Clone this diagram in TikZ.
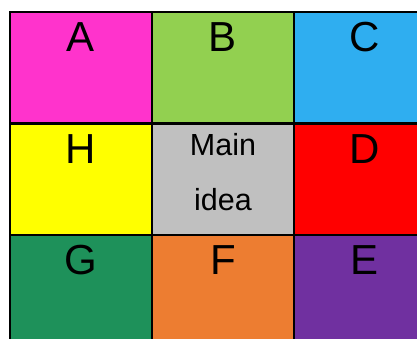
\documentclass[tikz,border=0pt]{standalone}
\usepackage{fontspec}
\setmainfont{Liberation Sans}
\definecolor{cA}{RGB}{255,51,204}
\definecolor{cB}{RGB}{146,208,80}
\definecolor{cC}{RGB}{47,174,240}
\definecolor{cH}{RGB}{255,255,0}
\definecolor{cM}{RGB}{192,192,192}
\definecolor{cD}{RGB}{255,0,0}
\definecolor{cG}{RGB}{30,145,90}
\definecolor{cF}{RGB}{237,125,49}
\definecolor{cE}{RGB}{112,48,160}
\tikzset{
  cell/.style={draw=black, line width=2.6pt, rectangle, minimum width=142pt, minimum height=111.5pt, inner sep=0pt, outer sep=0pt, anchor=north west},
  big/.style={anchor=base, inner sep=0pt, font=\fontsize{42}{50}\selectfont},
  mid/.style={anchor=base, inner sep=0pt, font=\fontsize{30.5}{55}\selectfont, align=center}
}
\begin{document}
\begin{tikzpicture}[x=1pt,y=1pt]
\useasboundingbox (0,0) rectangle (417,-338);
\clip (0,0) rectangle (417,-338);
\fill[white] (0,0) rectangle (417,-338);
\node[cell, fill=cA] (a) at (10,-12) {};
\node[cell, fill=cB] (b) at (152,-12) {};
\node[cell, fill=cC] (c) at (294,-12) {};
\node[cell, fill=cH] (h) at (10,-123.5) {};
\node[cell, fill=cM] (m) at (152,-123.5) {};
\node[cell, fill=cD] (d) at (294,-123.5) {};
\node[cell, fill=cG] (g) at (10,-235) {};
\node[cell, fill=cF] (f) at (152,-235) {};
\node[cell, fill=cE] (e) at (294,-235) {};
\node[big] (ta) at ([yshift=-39.5pt]a.north) {A};
\node[big] (tb) at ([yshift=-39.5pt]b.north) {B};
\node[big] (tc) at ([yshift=-39.5pt]c.north) {C};
\node[big] (th) at ([yshift=-39.5pt]h.north) {H};
\node[big] (td) at ([yshift=-39.5pt]d.north) {D};
\node[big] (tg) at ([yshift=-39.5pt]g.north) {G};
\node[big] (tf) at ([yshift=-39.5pt]f.north) {F};
\node[big] (te) at ([yshift=-39.5pt]e.north) {E};
\node[mid] (tm1) at ([yshift=-31.5pt]m.north) {Main};
\node[mid] (tm2) at ([yshift=-86.5pt]m.north) {idea};
\end{tikzpicture}
\end{document}
